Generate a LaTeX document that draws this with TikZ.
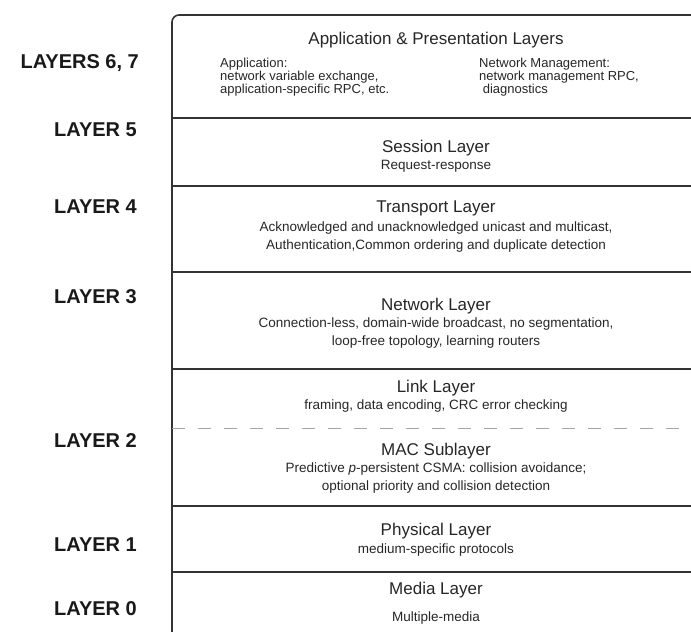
\documentclass[tikz,border=0pt]{standalone}
\usepackage{fontspec}
\setmainfont{Liberation Sans}
\usepackage{tikz}
\usetikzlibrary{positioning}

\begin{document}
\begin{tikzpicture}[
  x=1pt,y=-1pt,
  layertitle/.style={inner sep=0pt,text=black!85,font=\fontsize{17}{17}\selectfont},
  layerinfo/.style={inner sep=0pt,align=center,text=black!85,font=\fontsize{13.5}{18}\selectfont},
  colinfo/.style={inner sep=0pt,align=left,anchor=west,text=black!85,font=\fontsize{13}{13}\selectfont},
  layerlabel/.style={inner sep=0pt,anchor=east,text=black!90,font=\fontsize{20}{20}\selectfont\bfseries},
  divider/.style={line width=1.6pt,black!80},
  sublayer/.style={line width=0.8pt,black!35,dash pattern=on 13pt off 13pt},
]
\useasboundingbox (0,0) rectangle (691,632);

% Stack outline (open to the right and bottom)
\draw[divider,rounded corners=7pt] (705,15) -- (172,15) -- (172,640);

% Layer borders
\foreach \y in {118,186,272,369,506,572}
  \draw[divider] (172,\y) -- (705,\y);
\draw[sublayer] (172,428) -- (705,428);

% Layers 6, 7
\node[layertitle] (apptitle) at (436,40) {Application \& Presentation Layers};
\node[colinfo] (appinfo) at (220,77) {Application:\\network variable exchange,\\application-specific RPC, etc.};
\node[colinfo] (mgmtinfo) at (479,77) {Network Management:\\network management RPC,\\\ diagnostics};

% Layer 5
\node[layertitle] (sestitle) at (436,148) {Session Layer};
\node[layerinfo] (sesinfo) at (436,166) {Request-response};

% Layer 4
\node[layertitle] (trtitle) at (436,208) {Transport Layer};
\node[layerinfo] (trinfo) at (436,237.5) {Acknowledged and unacknowledged unicast and multicast,\\Authentication,Common ordering and duplicate detection};

% Layer 3
\node[layertitle] (nettitle) at (436,306) {Network Layer};
\node[layerinfo] (netinfo) at (436,333) {Connection-less, domain-wide broadcast, no segmentation,\\loop-free topology, learning routers};

% Layer 2
\node[layertitle] (linktitle) at (436,388) {Link Layer};
\node[layerinfo] (linkinfo) at (436,406) {framing, data encoding, CRC error checking};
\node[layertitle] (mactitle) at (436,451) {MAC Sublayer};
\node[layerinfo] (macinfo) at (436,478.5) {Predictive \textit{p}-persistent CSMA: collision avoidance;\\optional priority and collision detection};

% Layer 1
\node[layertitle] (phytitle) at (436,531) {Physical Layer};
\node[layerinfo] (phyinfo) at (436,550) {medium-specific protocols};

% Layer 0
\node[layertitle] (medtitle) at (436,590) {Media Layer};
\node[layerinfo] (medinfo) at (436,618) {Multiple-media};

% Layer numbers
\node[layerlabel] (l67) at (139,63) {LAYERS 6, 7};
\node[layerlabel] (l5) at (137,130) {LAYER 5};
\node[layerlabel] (l4) at (137,207) {LAYER 4};
\node[layerlabel] (l3) at (137,297) {LAYER 3};
\node[layerlabel] (l2) at (137,441) {LAYER 2};
\node[layerlabel] (l1) at (137,545) {LAYER 1};
\node[layerlabel] (l0) at (137,609) {LAYER 0};

\end{tikzpicture}
\end{document}
